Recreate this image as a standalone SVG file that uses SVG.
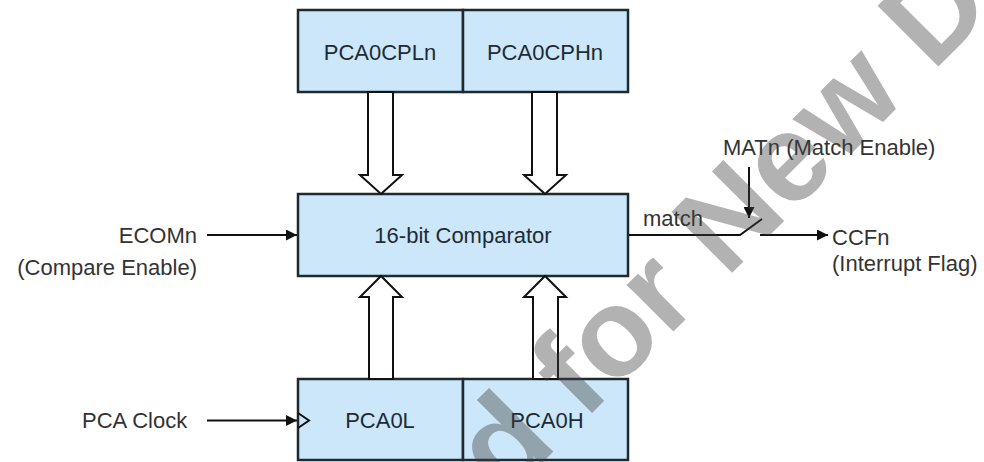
<svg xmlns="http://www.w3.org/2000/svg" width="984" height="462" viewBox="0 0 984 462">
<style>
.box{fill:#cbe7f9;stroke:#1f2a30;stroke-width:2.5}
.bt{font-family:"Liberation Sans",Arial,sans-serif;font-size:22px;fill:#1e2b35;text-anchor:middle;dominant-baseline:central}
.lb{font-family:"Liberation Sans",Arial,sans-serif;font-size:22px;fill:#333}
.ln{stroke:#111;stroke-width:2;fill:none}
.hol{fill:#fff;stroke:#111;stroke-width:2;stroke-linejoin:miter}
.wm{font-family:"Liberation Sans",Arial,sans-serif;font-size:125px;font-weight:bold;fill:#404040;opacity:0.4}
</style>
<defs>
<marker id="ah" viewBox="0 0 10 10" refX="10" refY="5" markerWidth="5.5" markerHeight="5.5" orient="auto" markerUnits="strokeWidth">
<path d="M0,0 L10,5 L0,10 z" fill="#111"/>
</marker>
</defs>
<rect width="984" height="462" fill="#fff"/>
<g id="PCA0CPLn"><rect class="box" x="298" y="10" width="165" height="82"/><text class="bt" x="380" y="52">PCA0CPLn</text></g>
<g id="PCA0CPHn"><rect class="box" x="463" y="10" width="165" height="82"/><text class="bt" x="545" y="52">PCA0CPHn</text></g>
<g id="comparator"><rect class="box" x="298" y="194" width="330" height="82"/><text class="bt" x="463" y="235">16-bit Comparator</text></g>
<g id="PCA0L"><rect class="box" x="298" y="379" width="165" height="81"/><text class="bt" x="380" y="420">PCA0L</text><polyline class="ln" points="298,413 309,420.5 298,428"/></g>
<g id="PCA0H"><rect class="box" x="463" y="379" width="165" height="81"/><text class="bt" x="547" y="420">PCA0H</text></g>
<g id="labels">
<text class="lb" x="197" y="243" text-anchor="end">ECOMn</text>
<text class="lb" x="197" y="275" text-anchor="end">(Compare Enable)</text>
<text class="lb" x="82" y="428">PCA Clock</text>
<text class="lb" x="723" y="155">MATn (Match Enable)</text>
<text class="lb" x="643" y="226">match</text>
<text class="lb" x="832" y="245">CCFn</text>
<text class="lb" x="832" y="271">(Interrupt Flag)</text>
</g>
<g id="connectors">
<polygon class="hol" points="368,92 368,175 360,175 381,194 402,175 393,175 393,92"/>
<polygon class="hol" points="532,92 532,175 524,175 545,194 566,175 557,175 557,92"/>
<polygon class="hol" points="369,379 369,297 360,297 381,276 402,297 393,297 393,379"/>
<polygon class="hol" points="533,379 533,297 524,297 545,276 566,297 558,297 558,379"/>
<line class="ln" x1="207" y1="235" x2="297" y2="235" marker-end="url(#ah)"/>
<line class="ln" x1="207" y1="420.5" x2="297" y2="420.5" marker-end="url(#ah)"/>
<polyline class="ln" points="629,235 740,235 762,219"/>
<line class="ln" x1="749" y1="167" x2="749" y2="218" marker-end="url(#ah)"/>
<line class="ln" x1="760" y1="235" x2="828" y2="235" marker-end="url(#ah)"/>
</g>
<g id="watermark" transform="translate(584,421) rotate(-45)">
<text class="wm" x="-1174" y="0">Not Recommended for New Designs</text>
</g>
</svg>
